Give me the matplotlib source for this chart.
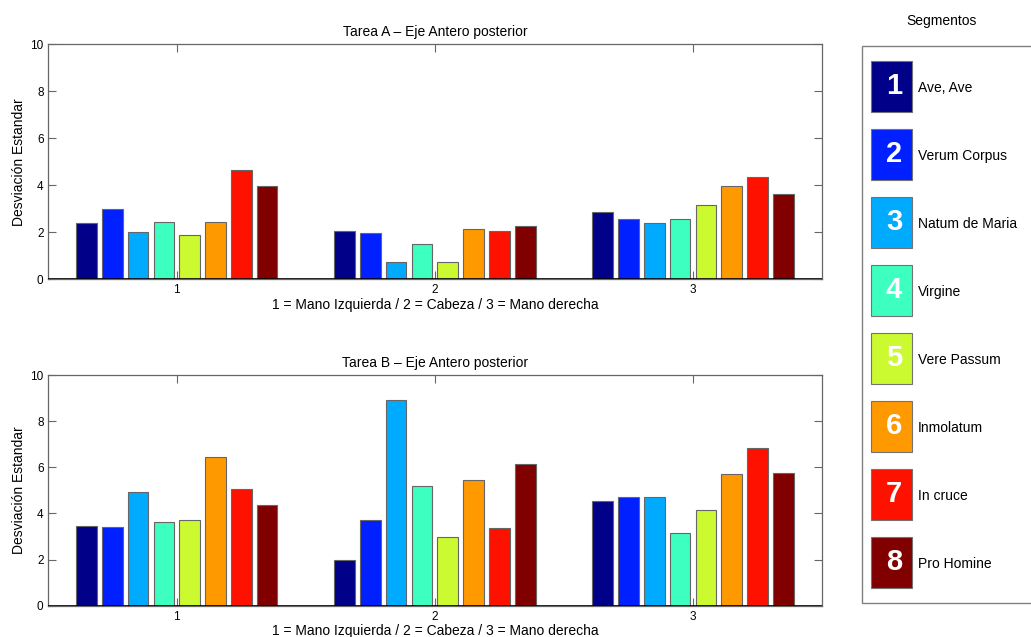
import matplotlib
matplotlib.use('Agg')
import matplotlib.pyplot as plt
import numpy as np
from matplotlib.patches import Rectangle

plt.rcParams['font.family'] = ['Liberation Sans', 'DejaVu Sans']

# Data
groups = [1, 2, 3]
segments = ['Ave, Ave', 'Verum Corpus', 'Natum de Maria', 'Virgine',
            'Vere Passum', 'Inmolatum', 'In cruce', 'Pro Homine']
seg_colors = ['#000088', '#0020ff', '#00aaff', '#3cffc0',
              '#ccfa30', '#ff9900', '#ff1100', '#800000']

# rows = groups (1 = Mano Izquierda, 2 = Cabeza, 3 = Mano derecha), cols = segments
tarea_a = [[2.41, 2.98, 2.00, 2.45, 1.89, 2.43, 4.65, 3.99],
           [2.06, 1.99, 0.72, 1.50, 0.74, 2.14, 2.04, 2.26],
           [2.88, 2.55, 2.38, 2.55, 3.16, 3.97, 4.35, 3.62]]
tarea_b = [[3.47, 3.42, 4.93, 3.64, 3.70, 6.43, 5.07, 4.38],
           [1.98, 3.71, 8.92, 5.20, 2.99, 5.43, 3.35, 6.16],
           [4.52, 4.73, 4.73, 3.14, 4.16, 5.71, 6.82, 5.77]]

titles = ['Tarea A – Eje Antero posterior', 'Tarea B – Eje Antero posterior']
xlabel = '1 = Mano Izquierda / 2 = Cabeza / 3 = Mano derecha'
ylabel = 'Desviación Estandar'

W, H = 1031, 637
fig = plt.figure(figsize=(W / 100, H / 100), dpi=100)


def px_axes(left, top, right, bottom):
    return fig.add_axes([left / W, 1 - bottom / H, (right - left) / W, (bottom - top) / H])


def draw_panel(ax, data, title):
    data = np.array(data)
    x = np.array(groups, dtype=float)
    n = data.shape[1]
    for i in range(n):
        ax.bar(x + (i - (n - 1) / 2) * 0.1, data[:, i], width=0.08,
               color=seg_colors[i], edgecolor='0.4', linewidth=0.8, zorder=2)
    ax.axhline(0, color='black', lw=1.2, zorder=3)
    ax.set_xlim(0.5, 3.5)
    ax.set_ylim(0, 10)
    ax.set_xticks(groups)
    ax.set_yticks(range(0, 11, 2))
    ax.tick_params(direction='in', top=True, right=True, length=5.5,
                   width=0.8, color='0.4', labelsize=8.5, pad=3)
    ax.tick_params(axis='x', pad=3.5)
    for s in ax.spines.values():
        s.set_color('0.4')
        s.set_linewidth(0.9)
    ax.set_title(title, fontsize=10, pad=6)
    ax.set_xlabel(xlabel, fontsize=10, labelpad=1)
    ax.set_ylabel(ylabel, fontsize=10, labelpad=3)


ax1 = px_axes(47.7, 44.3, 822, 279.3)
draw_panel(ax1, tarea_a, titles[0])
ax2 = px_axes(47.7, 375, 822, 605.7)
draw_panel(ax2, tarea_b, titles[1])

# Legend panel (pixel coordinates)
lg = fig.add_axes([0, 0, 1, 1], zorder=-1)
lg.set_xlim(0, W)
lg.set_ylim(H, 0)
lg.axis('off')
lg.add_patch(Rectangle((862.3, 46), 220, 557.3, facecolor='white',
                       edgecolor='0.5', lw=1.0, clip_on=False))
lg.text(941.7, 20.7, 'Segmentos', ha='center', va='center', fontsize=10)
for i, name in enumerate(segments):
    y0 = 61 + 68 * i
    lg.add_patch(Rectangle((870.7, y0), 41.6, 51, facecolor=seg_colors[i],
                           edgecolor='0.45', lw=0.8))
    lg.text(894, y0 + 25, str(i + 1), ha='center', va='center',
            color='white', fontsize=21, fontweight='bold')
    lg.text(917.7, y0 + 27, name, ha='left', va='center', fontsize=10)

fig.savefig('out.png', dpi=100)
